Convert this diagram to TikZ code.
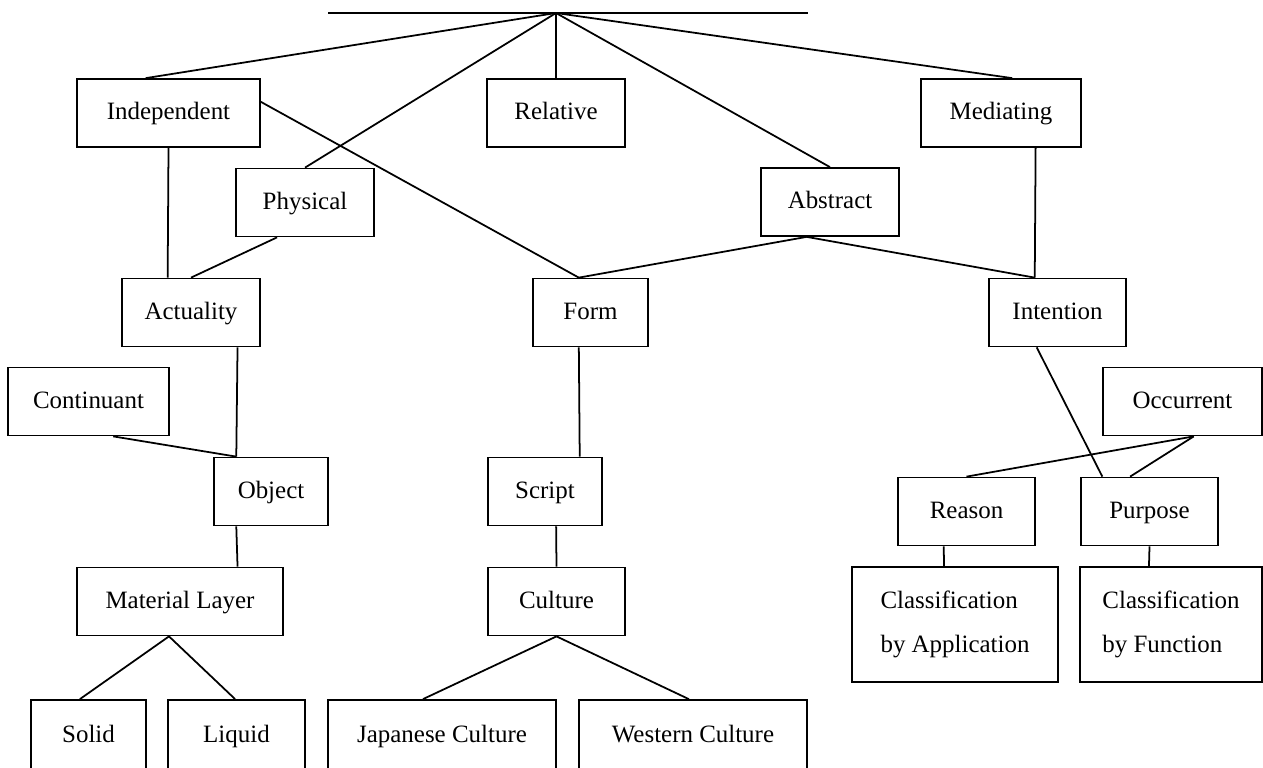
\documentclass[tikz,border=0pt]{standalone}
\usepackage{fontspec}
\setmainfont{Liberation Serif}
\usetikzlibrary{calc}

\begin{document}
\begin{tikzpicture}[
  x=0.02cm, y=-0.02cm,
  font=\fontsize{14.2}{25}\selectfont,
  frame/.style={draw, line width=1pt, inner sep=0pt, align=left},
  box/.style={frame, minimum height=1.36cm, text height=0.86em, text depth=0.08em},
  dbox/.style={frame, minimum height=2.3cm},
  link/.style={line width=1pt}
]
\clip (0,0) rectangle (1263,767);
% top bar
\coordinate (barl) at (328,13);
\coordinate (barr) at (808,13);
\coordinate (root) at (556,13);
\draw[link] (barl) -- (barr);
% first row
\node[box, minimum width=3.66cm] (indep) at (168.5,113) {Independent};
\node[box, minimum width=2.76cm] (rel) at (556,113) {Relative};
\node[box, minimum width=3.2cm] (med) at (1001,113) {Mediating};
\node[box, minimum width=2.76cm] (phys) at (305,202.5) {Physical};
\node[box, minimum width=2.76cm] (abstr) at (830,202) {Abstract};
% second row
\node[box, minimum width=2.76cm] (act) at (191,312.5) {Actuality};
\node[box, minimum width=2.3cm] (form) at (590.5,312.5) {Form};
\node[box, minimum width=2.74cm] (intent) at (1057.5,312.5) {Intention};
\node[box, minimum width=3.22cm] (cont) at (88.5,401.5) {Continuant};
\node[box, minimum width=3.18cm] (occ) at (1182.5,401.5) {Occurrent};
% third row
\node[box, minimum width=2.28cm] (obj) at (271,491.5) {Object};
\node[box, minimum width=2.28cm] (script) at (545,491.5) {Script};
\node[box, minimum width=2.74cm] (reason) at (966.5,511.5) {Reason};
\node[box, minimum width=2.74cm] (purp) at (1149.5,511.5) {Purpose};
% fourth row
\node[box, minimum width=4.12cm] (mat) at (180,601.5) {Material Layer};
\node[box, minimum width=2.74cm] (cult) at (556.5,601.5) {Culture};
\node[dbox, minimum width=4.12cm] (capp) at (955,624.5) {Classification\\by Application};
\node[dbox, minimum width=3.64cm] (cfun) at (1171,624.5) {Classification\\by Function};
% bottom row
\node[box, minimum width=2.3cm, minimum height=1.42cm] (solid) at (88.5,735.5) {Solid};
\node[box, minimum width=2.74cm, minimum height=1.42cm] (liquid) at (236.5,735.5) {Liquid};
\node[box, minimum width=4.56cm, minimum height=1.42cm] (jap) at (442,735.5) {Japanese Culture};
\node[box, minimum width=4.56cm, minimum height=1.42cm] (west) at (693,735.5) {Western Culture};
% links from the top
\draw[link] (root) -- ($(indep.north west)!0.377!(indep.north east)$);
\draw[link] (root) -- (rel.north);
\draw[link] (root) -- (phys.north);
\draw[link] (root) -- (abstr.north);
\draw[link] (root) -- ($(med.north west)!0.569!(med.north east)$);
% links between boxes
\draw[link] ($(indep.north east)!0.34!(indep.south east)$) -- ($(form.north west)!0.4!(form.north east)$);
\draw[link] (indep.south) -- ($(act.north west)!0.333!(act.north east)$);
\draw[link] ($(phys.south west)!0.3!(phys.south east)$) -- (act.north);
\draw[link] ($(abstr.south west)!0.333!(abstr.south east)$) -- ($(form.north west)!0.4!(form.north east)$);
\draw[link] ($(abstr.south west)!0.333!(abstr.south east)$) -- ($(intent.north west)!0.336!(intent.north east)$);
\draw[link] ($(med.south west)!0.714!(med.south east)$) -- ($(intent.north west)!0.336!(intent.north east)$);
\draw[link] ($(act.south west)!0.833!(act.south east)$) -- ($(obj.north west)!0.2!(obj.north east)$);
\draw[link] ($(cont.south west)!0.652!(cont.south east)$) -- ($(obj.north west)!0.2!(obj.north east)$);
\draw[link] ($(obj.south west)!0.2!(obj.south east)$) -- ($(mat.north west)!0.777!(mat.north east)$);
\draw[link] ($(mat.south west)!0.447!(mat.south east)$) -- ($(solid.north west)!0.426!(solid.north east)$);
\draw[link] ($(mat.south west)!0.447!(mat.south east)$) -- ($(liquid.north west)!0.49!(liquid.north east)$);
\draw[link] ($(form.south west)!0.4!(form.south east)$) -- ($(script.north west)!0.8!(script.north east)$);
\draw[link] ($(script.south west)!0.596!(script.south east)$) -- (cult.north);
\draw[link] (cult.south) -- ($(jap.north west)!0.417!(jap.north east)$);
\draw[link] (cult.south) -- ($(west.north west)!0.482!(west.north east)$);
\draw[link] ($(intent.south west)!0.35!(intent.south east)$) -- ($(purp.north west)!0.16!(purp.north east)$);
\draw[link] ($(occ.south west)!0.57!(occ.south east)$) -- (reason.north);
\draw[link] ($(occ.south west)!0.57!(occ.south east)$) -- ($(purp.north west)!0.36!(purp.north east)$);
\draw[link] ($(reason.south west)!0.336!(reason.south east)$) -- ($(capp.north west)!0.447!(capp.north east)$);
\draw[link] (purp.south) -- ($(cfun.north west)!0.38!(cfun.north east)$);
\end{tikzpicture}
\end{document}
